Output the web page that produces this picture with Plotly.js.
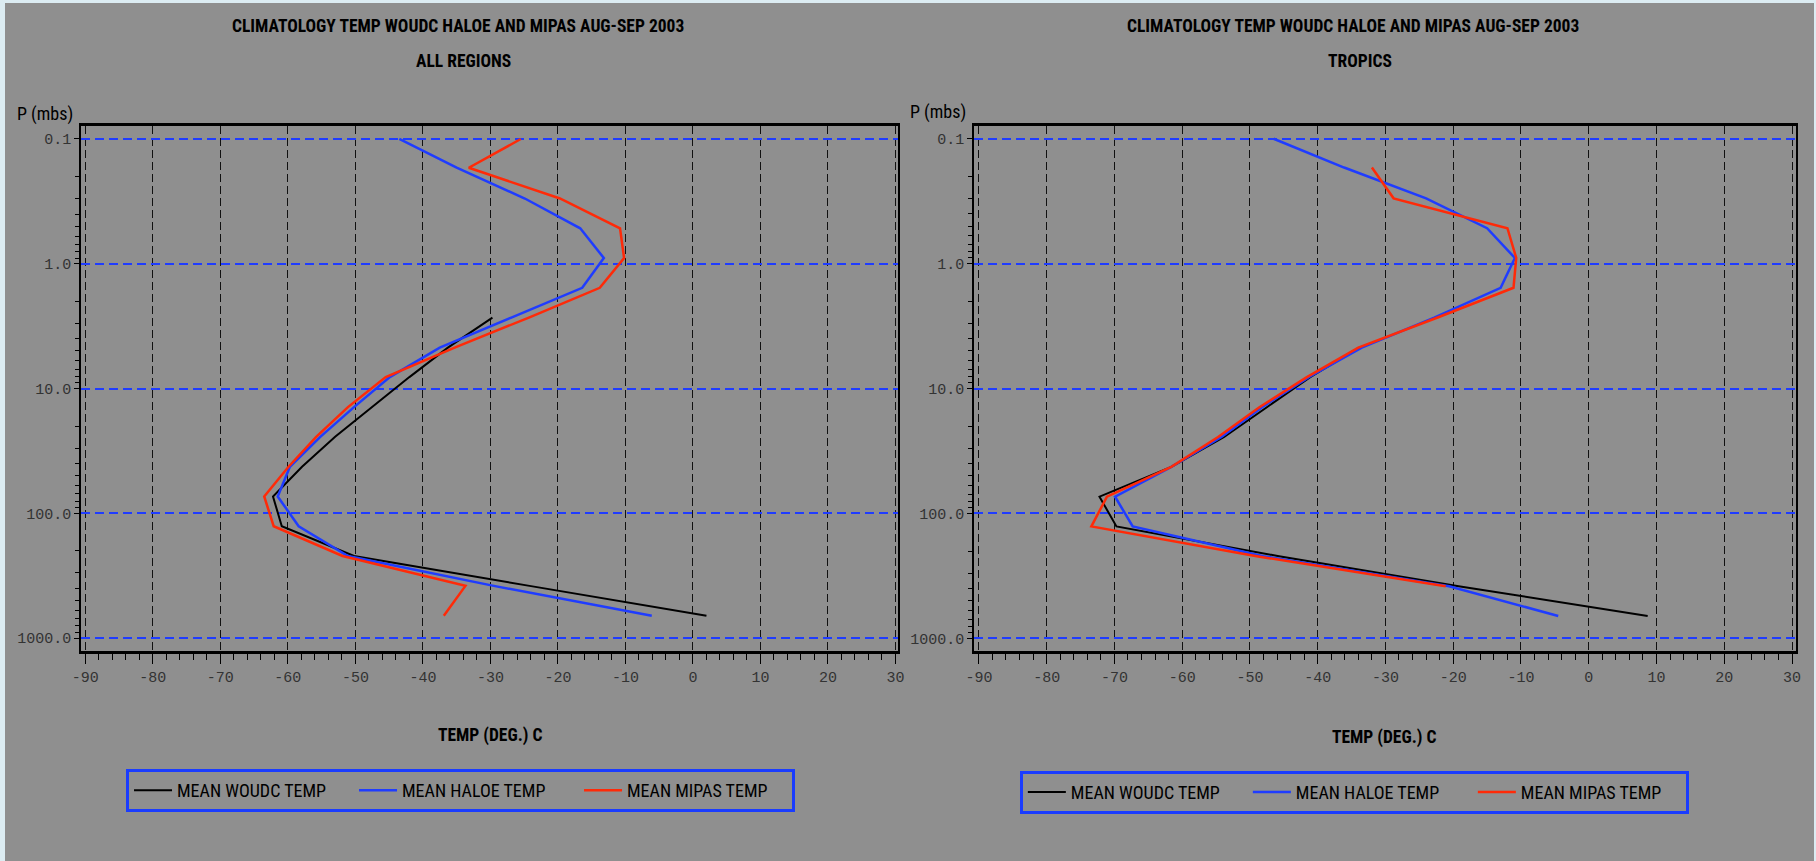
<!DOCTYPE html>
<html><head><meta charset="utf-8">
<script src="https://cdn.plot.ly/plotly-3.0.1.min.js"></script>
<style>
html,body{margin:0;padding:0;background:#dcecf2;width:1816px;height:861px;overflow:hidden;}
#chart{position:absolute;left:5px;top:3px;width:1809px;height:858px;}
</style></head><body><div id="chart"></div>
<script>
// ---- data ----
const PRESSURE = [0.1, 0.17, 0.3, 0.52, 0.9, 1.56, 2.7, 4.7, 8.1, 14.1, 24.4, 42.4, 73.4, 127, 220, 382, 662];

const ALL_WOUDC = [null, null, null, null, null, null, -29.7, -36.3, -42.0, -47.6, -53.0, -57.9, -62.2, -60.9, -50.2, -24.2, 2.0];
const ALL_HALOE = [-43.5, -35.0, -24.9, -16.7, -13.2, -16.4, -26.9, -37.5, -44.9, -50.2, -55.2, -59.7, -61.5, -58.4, -51.1, -29.5, -6.1];
const ALL_MIPAS = [-25.5, -33.2, -19.7, -10.8, -10.2, -13.8, -24.3, -35.3, -45.5, -51.1, -55.8, -59.9, -63.5, -62.1, -51.9, -33.7, -36.9];

const TROP_WOUDC = [null, null, null, null, null, null, null, -33.9, -41.1, -47.5, -53.8, -61.6, -72.2, -69.7, -45.7, -19.2, 8.7];
const TROP_HALOE = [-46.5, -36.1, -24.0, -15.0, -10.9, -13.0, -22.8, -33.5, -41.3, -48.2, -54.2, -61.6, -69.9, -67.3, -48.0, -20.6, -4.5];
const TROP_MIPAS = [null, -32.0, -28.8, -12.0, -10.7, -11.1, -22.3, -34.0, -41.6, -48.6, -54.7, -61.6, -71.1, -73.4, -49.0, -21.1, null];

const SERIES_NAMES = ['MEAN WOUDC TEMP', 'MEAN HALOE TEMP', 'MEAN MIPAS TEMP'];
const MAIN_TITLE = 'CLIMATOLOGY TEMP WOUDC HALOE AND MIPAS AUG-SEP 2003';
const PANEL_TITLES = ['ALL REGIONS', 'TROPICS'];
const X_TITLE = 'TEMP (DEG.) C';
const Y_TITLE = 'P (mbs)';

const X_TICKS = [-90, -80, -70, -60, -50, -40, -30, -20, -10, 0, 10, 20, 30];
const X_TICK_LABELS = ['-90', '-80', '-70', '-60', '-50', '-40', '-30', '-20', '-10', '0', '10', '20', '30'];
const Y_TICKS = [0.1, 1, 10, 100, 1000];
const Y_TICK_LABELS = ['0.1', '1.0', '10.0', '100.0', '1000.0'];

// ---- styling ----
const COLORS = ['#000000', '#1f3cff', '#ff2a08'];
const WIDTHS = [2, 2.5, 2.5];
const ENTRY_WIDTHS = [172, 172, 160];
const BG = '#8f8f8f';
const NARROW = "'Liberation Sans Narrow', 'Arial Narrow', 'Roboto Condensed', 'Liberation Sans', sans-serif";
const MONO = "'Liberation Mono', 'DejaVu Sans Mono', monospace";

const yMinor = [];
[0.1, 1, 10, 100].forEach(d => { for (let m = 2; m <= 9; m++) yMinor.push(+(d * m).toPrecision(3)); });

function makeTraces(series, xa, ya, legendId) {
  return series.map((vals, i) => ({
    type: 'scatter', mode: 'lines',
    x: vals, y: PRESSURE,
    name: SERIES_NAMES[i],
    xaxis: xa, yaxis: ya, legend: legendId,
    legendwidth: ENTRY_WIDTHS[i],
    line: {color: COLORS[i], width: WIDTHS[i]},
    hoverinfo: 'x+y+name'
  }));
}

const traces = [
  ...makeTraces([ALL_WOUDC, ALL_HALOE, ALL_MIPAS], 'x', 'y', 'legend'),
  ...makeTraces([TROP_WOUDC, TROP_HALOE, TROP_MIPAS], 'x2', 'y2', 'legend2')
];

function xAxis(domain, range, anchor) {
  return {
    domain: domain, range: range, anchor: anchor, automargin: false,
    tickmode: 'array', tickvals: X_TICKS, ticktext: X_TICK_LABELS,
    ticks: 'outside', ticklen: 10, tickwidth: 1, tickcolor: '#000',
    tickfont: {family: MONO, size: 15, color: '#333'},
    showline: true, linewidth: 3, linecolor: '#000', mirror: true,
    showgrid: true, gridcolor: '#111', gridwidth: 1, griddash: '8px,4px',
    zeroline: false,
    minor: {tickmode: 'linear', dtick: 2, ticks: 'outside', ticklen: 6, tickwidth: 1, tickcolor: '#000', showgrid: false}
  };
}
function yAxis(domain, range, anchor) {
  return {
    type: 'log', domain: domain, range: range, anchor: anchor, automargin: false,
    tickmode: 'array', tickvals: Y_TICKS, ticktext: Y_TICK_LABELS,
    ticks: 'outside', ticklen: 5, tickwidth: 1, tickcolor: '#000',
    tickfont: {family: MONO, size: 15, color: '#333'},
    showline: true, linewidth: 2, linecolor: '#000', mirror: true,
    showgrid: true, gridcolor: '#1f3cff', gridwidth: 1.5, griddash: '9px,5px',
    zeroline: false,
    minor: {tickmode: 'array', tickvals: yMinor, ticks: 'outside', ticklen: 4, tickwidth: 1, tickcolor: '#000', showgrid: false}
  };
}

const YDOM = [0.24476, 0.85664];
function ann(text, x, y, size, bold) {
  return {text: bold ? '<b>' + text + '</b>' : text, x: x, y: y, xref: 'paper', yref: 'paper',
    xanchor: 'center', yanchor: 'middle', showarrow: false,
    font: {family: NARROW, size: size, color: '#000'}};
}
function legendCfg(x, y) {
  return {
    orientation: 'h', x: x, y: y, xanchor: 'left', yanchor: 'top',
    bordercolor: '#1a3cff', borderwidth: 3, bgcolor: 'rgba(0,0,0,0)',
    font: {family: NARROW, size: 18, color: '#000'},
    itemwidth: 38, entrywidthmode: 'pixels',
    itemclick: false, itemdoubleclick: false
  };
}

const layout = {
  width: 1809, height: 858,
  margin: {l: 0, r: 0, t: 0, b: 0},
  paper_bgcolor: BG, plot_bgcolor: BG,
  showlegend: true,
  xaxis: xAxis([0.04212, 0.49353], [-90.61, 30.34], 'y'),
  yaxis: yAxis(YDOM, [3.104, -1.104], 'x'),
  xaxis2: xAxis([0.53577, 0.98983], [-90.69, 30.53], 'y2'),
  yaxis2: yAxis(YDOM, [3.101, -1.102], 'x2'),
  legend: legendCfg(0.0669, 0.1072),
  legend2: legendCfg(0.561, 0.1052),
  annotations: [
    ann(MAIN_TITLE, 0.2504, 0.9734, 17.5, true),
    ann(PANEL_TITLES[0], 0.2537, 0.9326, 17.5, true),
    ann(MAIN_TITLE, 0.745, 0.9734, 17.5, true),
    ann(PANEL_TITLES[1], 0.749, 0.9326, 17.5, true),
    ann(Y_TITLE, 0.0221, 0.8706, 18, false),
    ann(Y_TITLE, 0.5155, 0.8730, 18, false),
    ann(X_TITLE, 0.268, 0.1457, 17.5, true),
    ann(X_TITLE, 0.7623, 0.1445, 17.5, true)
  ]
};

Plotly.newPlot('chart', traces, layout, {displayModeBar: false});
</script></body></html>
